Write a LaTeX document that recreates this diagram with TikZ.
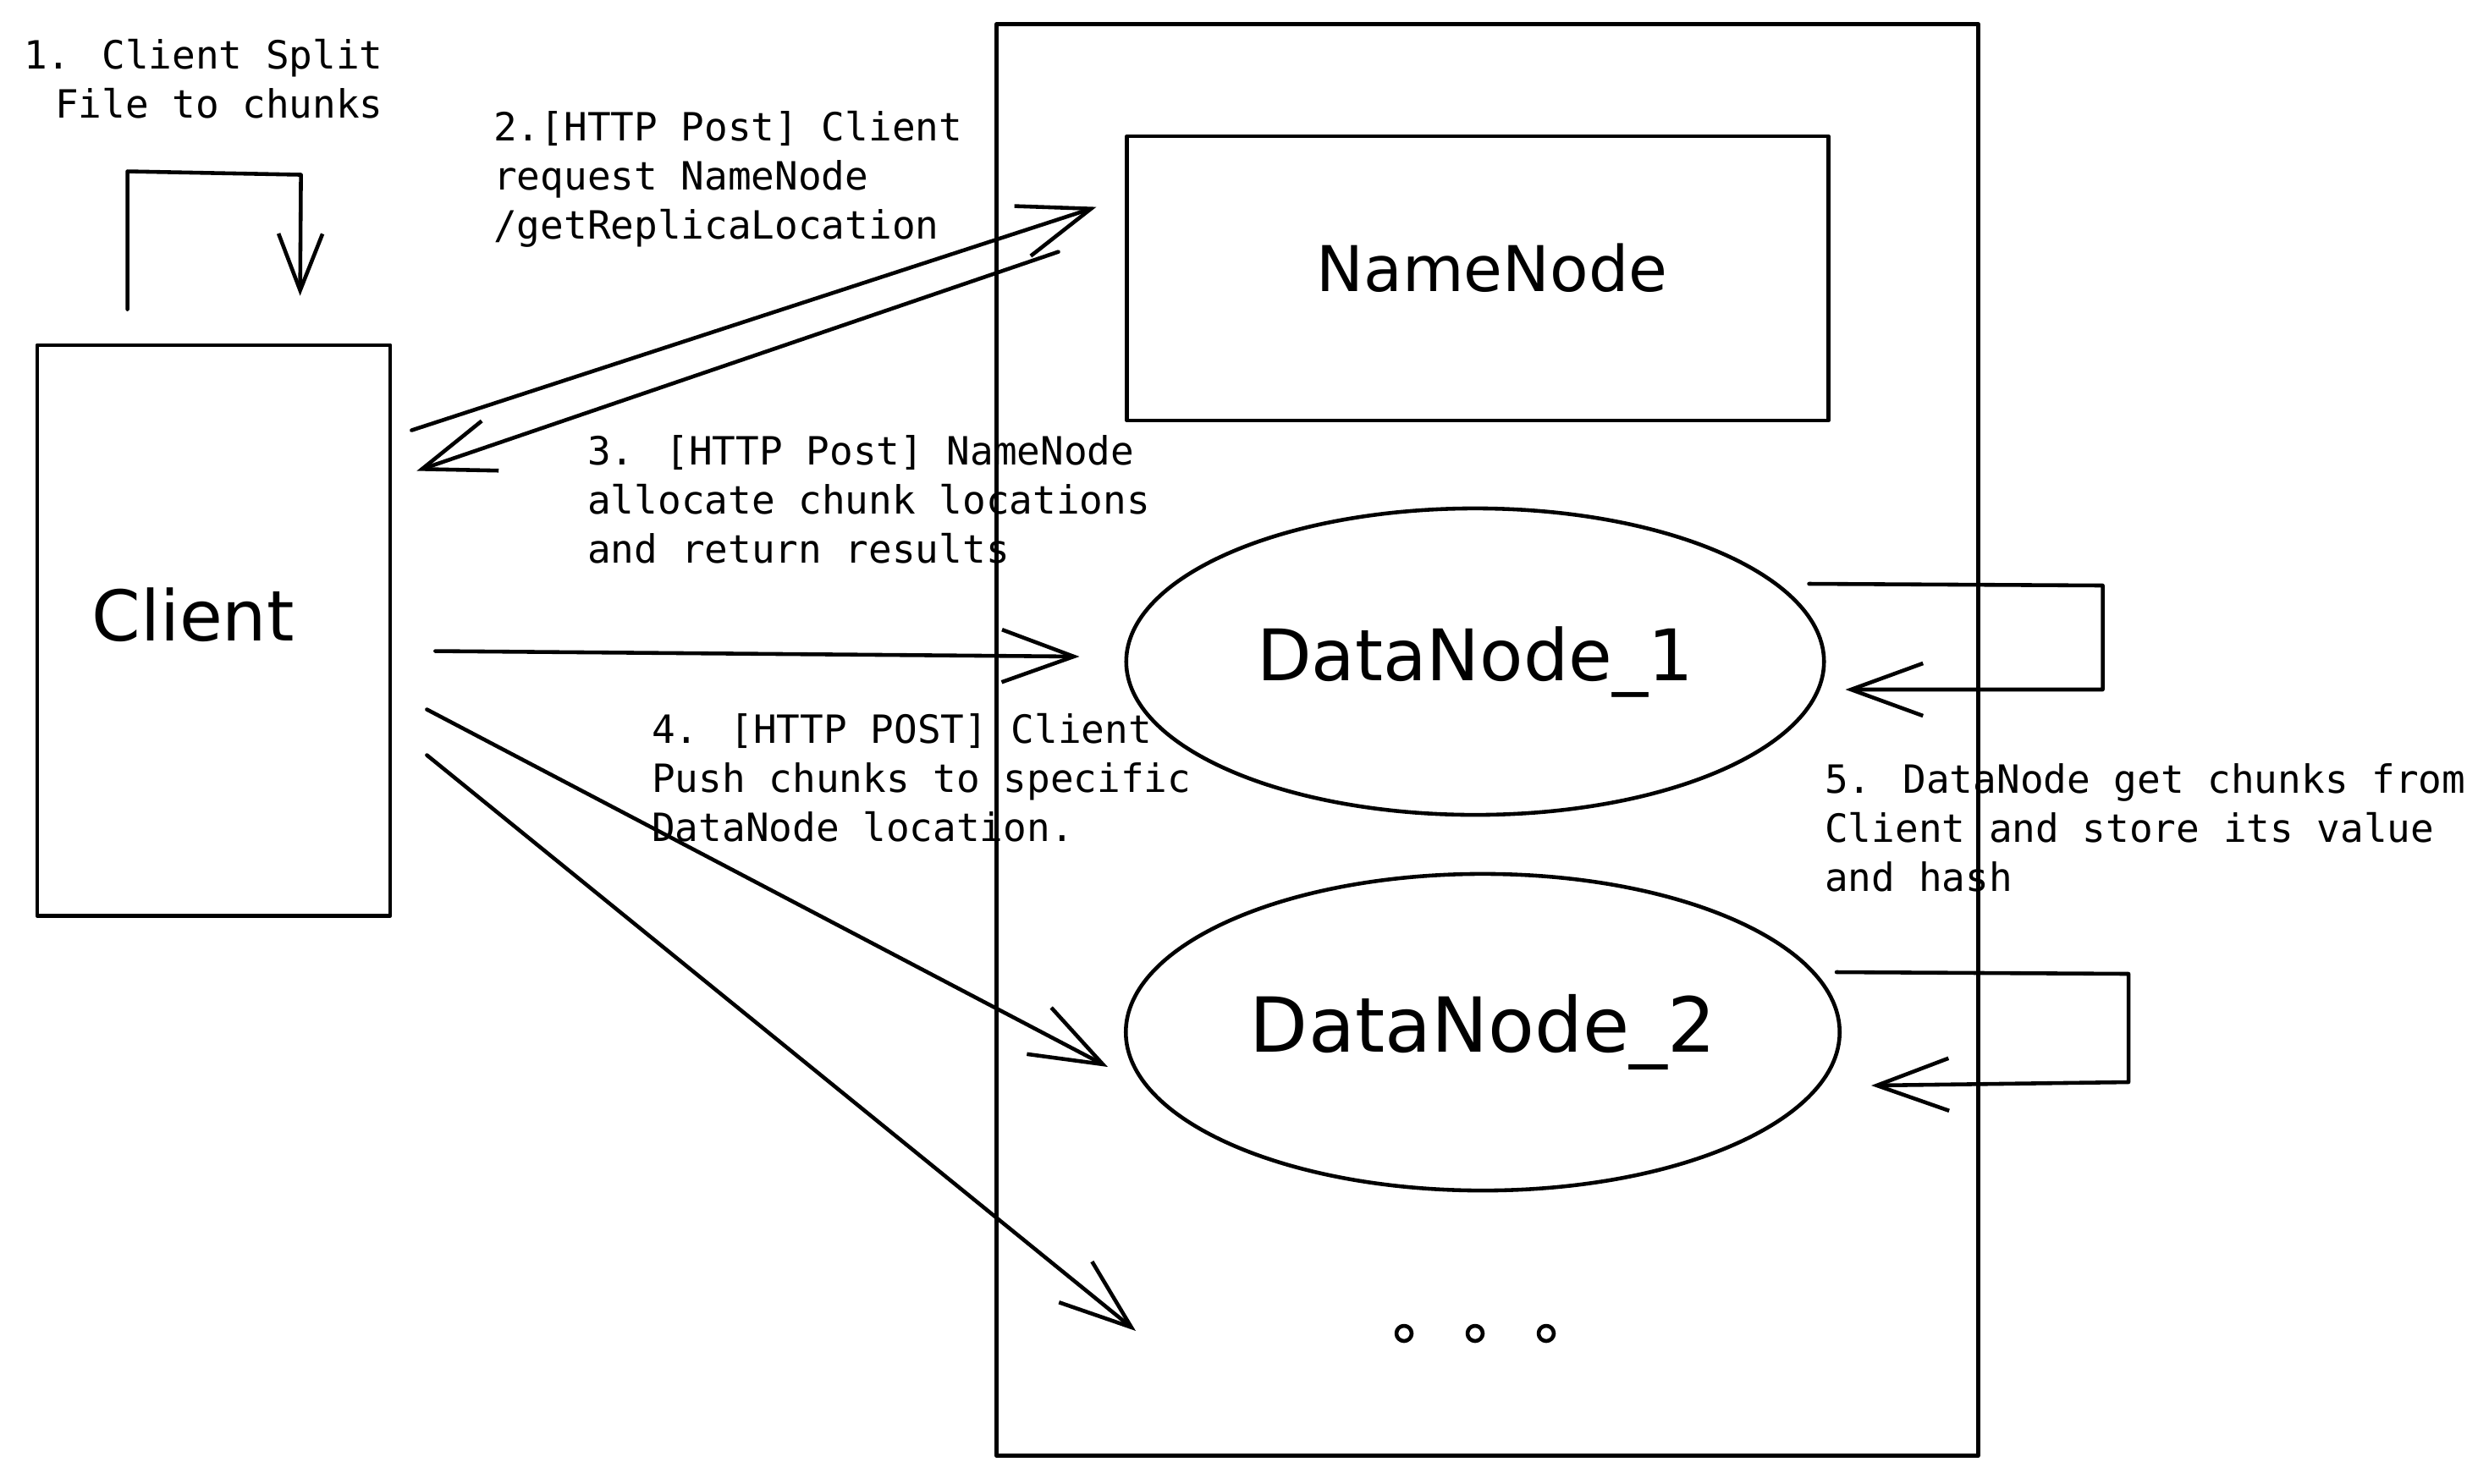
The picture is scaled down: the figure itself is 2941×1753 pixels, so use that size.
\documentclass[tikz,border=0pt]{standalone}
\usepackage{fontspec}
\setmainfont{DejaVu Sans}
\newfontfamily\monofont{DejaVu Sans Mono}
\usetikzlibrary{arrows.meta,calc,shapes.geometric}
\begin{document}
\begin{tikzpicture}[x=0.01cm,y=-0.01cm,
  line width=1.3pt, line cap=round, line join=round,
  boxshape/.style={draw, rectangle, inner sep=0pt},
  ellshape/.style={draw, ellipse, inner sep=0pt},
  hand/.style={inner sep=0pt, anchor=base},
  note/.style={inner sep=0pt, font={\monofont\fontsize{13.08}{16.63}\selectfont}},
  arr/.style={-{Straight Barb[length=0.85cm,width=0.62cm]}},
  arrsmall/.style={-{Straight Barb[length=0.67cm,width=0.52cm]}},
  dotshape/.style={draw, circle, minimum size=0.18cm, inner sep=0pt}
]
\useasboundingbox (0,0) rectangle (2941,1753);

% container
\node[boxshape, minimum width=11.59cm, minimum height=16.91cm] (cluster) at (1757.5,874.5) {};

% client
\node[boxshape, minimum width=4.17cm, minimum height=6.74cm] (client) at (252.5,745) {};
\node[hand, font=\fontsize{23.5}{28}\selectfont] (clienttxt) at (228,757) {Client};

% namenode
\node[boxshape, minimum width=8.28cm, minimum height=3.36cm] (nn) at (1746,329) {};
\node[hand, font=\fontsize{21.2}{26}\selectfont] (nntxt) at (1763,344) {NameNode};

% datanodes
\node[ellshape, minimum width=8.24cm, minimum height=3.62cm, font=\fontsize{23.9}{28}\selectfont] (dn1) at (1743,782) {DataNode\_1};
\node[ellshape, minimum width=8.43cm, minimum height=3.74cm, font=\fontsize{25.5}{30}\selectfont] (dn2) at (1752,1220) {DataNode\_2};

% dots
\node[dotshape] (d1) at (1659,1576) {};
\node[dotshape] (d2) at (1743,1576) {};
\node[dotshape] (d3) at (1827,1576) {};

% labels
\node[note, anchor=base east] (l1) at (455,81) {\begin{tabular}[t]{@{}r@{}}1. Client Split\\File to chunks\end{tabular}};
\node[note, anchor=base west] (l2) at (581,166) {\begin{tabular}[t]{@{}l@{}}2.[HTTP Post] Client\\request NameNode\\/getReplicaLocation\end{tabular}};
\node[note, anchor=base west] (l3) at (692,549) {\begin{tabular}[t]{@{}l@{}}3. [HTTP Post] NameNode\\allocate chunk locations\\and return results\end{tabular}};
\node[note, anchor=base west] (l4) at (768,878) {\begin{tabular}[t]{@{}l@{}}4. [HTTP POST] Client\\Push chunks to specific\\DataNode location.\end{tabular}};
\node[note, anchor=base west] (l5) at (2154,937) {\begin{tabular}[t]{@{}l@{}}5. DataNode get chunks from\\Client and store its value\\and hash\end{tabular}};

% client self loop
\draw[arrsmall] ($(client.north west)+(109,-40)$) -- ++(0,-163) -- ++(205,4) -- ++(-1,143);

% client <-> namenode
\draw[arr] ($(client.north east)+(23,103)$) -- ($(nn.north west)+(-34,86)$);
\draw[arr] ($(nn.north west)+(-79,139)$) -- ($(client.north east)+(29,151)$);

% client -> datanodes
\draw[arr] ($(client.north east)+(51,364)$) -- ($(dn1.west)+(-53,-6)$);
\draw[arr] ($(client.north east)+(41,433)$) -- ($(dn2.west)+(-19,41)$);
\draw[arr] ($(client.north east)+(41,487)$) -- ($(d1)+(-317,-3)$);

% datanode self loops
\draw[arr] ($(dn1.east)+(-20,-92)$) -- ++(347,2) -- ++(0,123) -- ++(-304,0);
\draw[arr] ($(dn2.east)+(-6,-71)$) -- ++(345,2) -- ++(0,128) -- ++(-304,4);

\end{tikzpicture}
\end{document}
